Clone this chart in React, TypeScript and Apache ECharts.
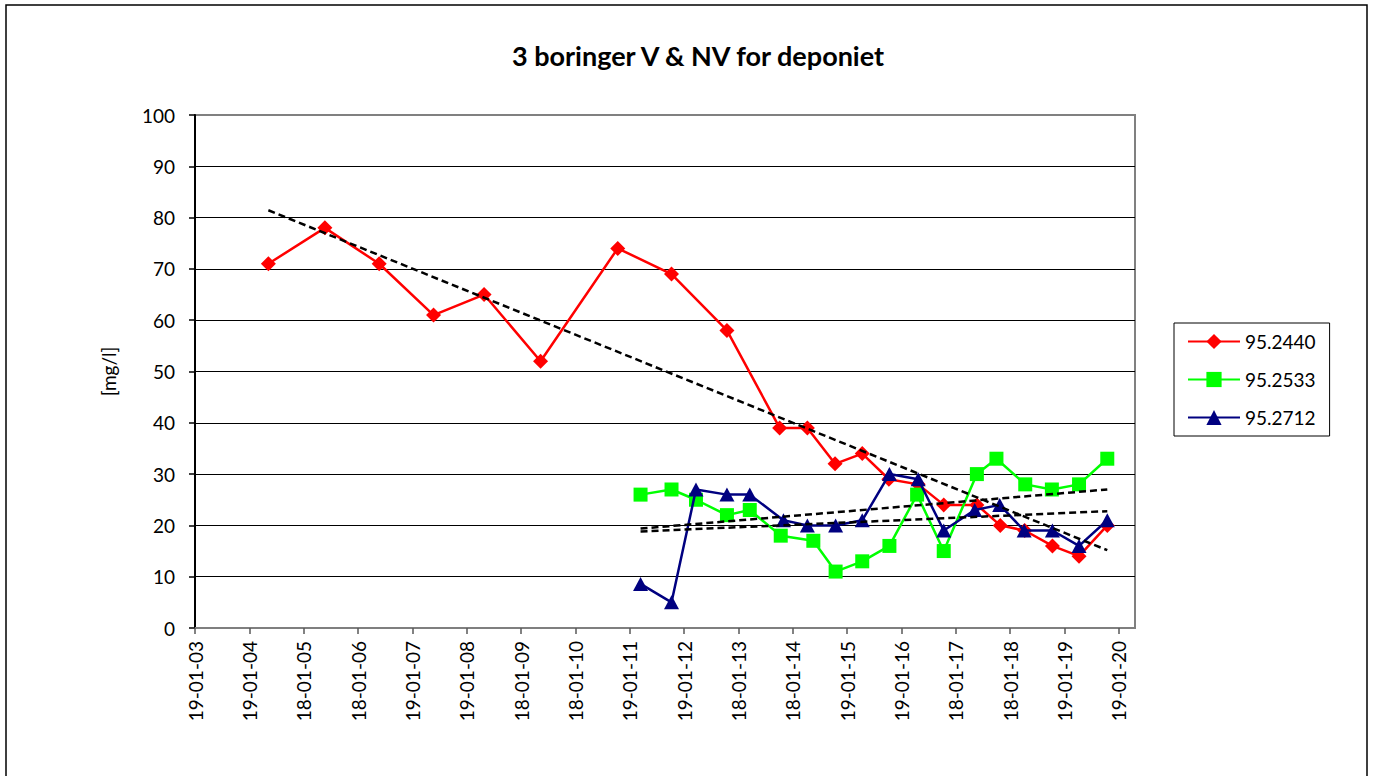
import React, { useEffect, useRef } from "react";
import * as echarts from "echarts";

// x positions: years since 19-01-2003 (axis ticks every year)
const tickLabels = [
  "19-01-03", "19-01-04", "18-01-05", "18-01-06", "19-01-07", "19-01-08",
  "18-01-09", "18-01-10", "19-01-11", "19-01-12", "18-01-13", "18-01-14",
  "19-01-15", "19-01-16", "18-01-17", "18-01-18", "19-01-19", "19-01-20",
];

const seriesNames = ["95.2440", "95.2533", "95.2712"];

const redX = [1.35, 2.39, 3.39, 4.39, 5.32, 6.36, 7.78, 8.77, 9.79, 10.76, 11.27, 11.78, 12.28, 12.77, 13.31, 13.78, 14.39, 14.82, 15.27, 15.78, 16.27, 16.79];
const redY = [71, 78, 71, 61, 65, 52, 74, 69, 58, 39, 39, 32, 34, 29, 28, 24, 24, 20, 19, 16, 14, 20];

const greenX = [8.2, 8.77, 9.22, 9.79, 10.21, 10.78, 11.38, 11.79, 12.28, 12.78, 13.29, 13.78, 14.39, 14.75, 15.28, 15.77, 16.27, 16.79];
const greenY = [26, 27, 25, 22, 23, 18, 17, 11, 13, 16, 26, 15, 30, 33, 28, 27, 28, 33];

const blueX = [8.2, 8.77, 9.22, 9.79, 10.21, 10.83, 11.27, 11.79, 12.28, 12.78, 13.31, 13.78, 14.35, 14.81, 15.26, 15.78, 16.27, 16.79];
const blueY = [8.6, 5, 27, 26, 26, 21, 20, 20, 21, 30, 29, 19, 23, 24, 19, 19, 16, 21];

const colors = ["#FF0000", "#00FF00", "#000080"];
const symbols = ["diamond", "rect", "triangle"];
const symbolSizes: any[] = [15, 14, [15, 14]];

const FONT = "Lato";

function zip(xs: number[], ys: number[]) {
  return xs.map((x, i) => [x, ys[i]]);
}

// Linear least-squares trend line spanning the series' x range (like Excel)
function trend(xs: number[], ys: number[]) {
  const n = xs.length;
  const mx = xs.reduce((a, b) => a + b, 0) / n;
  const my = ys.reduce((a, b) => a + b, 0) / n;
  let sxy = 0, sxx = 0;
  for (let i = 0; i < n; i++) {
    sxy += (xs[i] - mx) * (ys[i] - my);
    sxx += (xs[i] - mx) * (xs[i] - mx);
  }
  const b = sxy / sxx;
  const a = my - b * mx;
  const x0 = Math.min(...xs), x1 = Math.max(...xs);
  return [[x0, a + b * x0], [x1, a + b * x1]];
}

export default function App() {
  const ref = useRef<HTMLDivElement>(null);
  useEffect(() => {
    if (!ref.current) return;
    const chart = echarts.init(ref.current, null, { renderer: "svg" });
    const xsAll = [redX, greenX, blueX];
    const ysAll = [redY, greenY, blueY];
    const dataSeries = seriesNames.map((name, i) => ({
      name,
      type: "line",
      data: zip(xsAll[i], ysAll[i]),
      symbol: symbols[i],
      symbolSize: symbolSizes[i],
      showSymbol: true,
      lineStyle: { color: colors[i], width: 2.5 },
      itemStyle: { color: colors[i] },
      z: 3 + i,
    }));
    const trendSeries = seriesNames.map((name, i) => ({
      name: name + " trend",
      type: "line",
      data: trend(xsAll[i], ysAll[i]),
      symbol: "none",
      lineStyle: { color: "#000", width: 2.5, type: [7, 4] },
      z: 10,
      silent: true,
    }));
    chart.setOption({
      animation: false,
      backgroundColor: "#fff",
      textStyle: { fontFamily: FONT },
      grid: {
        left: 195,
        top: 115,
        width: 940,
        height: 513,
        show: true,
        borderColor: "#808080",
        borderWidth: 2,
        backgroundColor: "transparent",
      },
      legend: {
        data: seriesNames,
        orient: "vertical",
        left: 1174,
        top: 323,
        padding: [9, 14, 9, 13],
        itemGap: 19,
        itemWidth: 52,
        itemHeight: 19,
        borderColor: "#000",
        borderWidth: 1,
        textStyle: { fontFamily: FONT, fontSize: 19, color: "#000" },
      },
      xAxis: {
        type: "value",
        min: 0,
        max: 17.3,
        interval: 1,
        axisLine: { lineStyle: { color: "#7f7f7f", width: 2 } },
        axisTick: {
          show: true,
          length: 6,
          customValues: tickLabels.map((_, i) => i),
          lineStyle: { color: "#595959", width: 1.5 },
        },
        axisLabel: {
          customValues: tickLabels.map((_, i) => i),
          formatter: (v: number) => tickLabels[Math.round(v)] ?? "",
          rotate: 90,
          margin: 13,
          fontFamily: FONT,
          fontSize: 19,
          color: "#000",
        },
        splitLine: { show: false },
      },
      yAxis: {
        type: "value",
        min: 0,
        max: 100,
        interval: 10,
        name: "[mg/l]",
        nameLocation: "middle",
        nameGap: 77,
        nameRotate: 90,
        nameTextStyle: { fontFamily: FONT, fontSize: 19, color: "#000" },
        axisLine: { show: true, lineStyle: { color: "#000", width: 2 } },
        axisTick: { show: true, length: 6, lineStyle: { color: "#000", width: 1.5 } },
        axisLabel: { margin: 20, fontFamily: FONT, fontSize: 19, color: "#000" },
        splitLine: { show: true, showMaxLine: false, lineStyle: { color: "#000", width: 1 } },
      },
      graphic: [
        {
          type: "rect",
          shape: { x: 6, y: 5, width: 1361, height: 800 },
          style: { fill: "none", stroke: "#000", lineWidth: 1.5 },
          silent: true,
          z: -10,
        },
        {
          type: "text",
          x: 698,
          y: 55,
          style: {
            text: "3 boringer V & NV for deponiet",
            fontFamily: FONT,
            fontWeight: "bold",
            fontSize: 27,
            fill: "#000",
            textAlign: "center",
            textVerticalAlign: "middle",
          },
        },
      ],
      series: [...dataSeries, ...trendSeries],
    });
    return () => chart.dispose();
  }, []);
  return (
    <div
      ref={ref}
      style={{ position: "fixed", left: 0, top: 0, width: 1373, height: 776, background: "#fff" }}
    />
  );
}
